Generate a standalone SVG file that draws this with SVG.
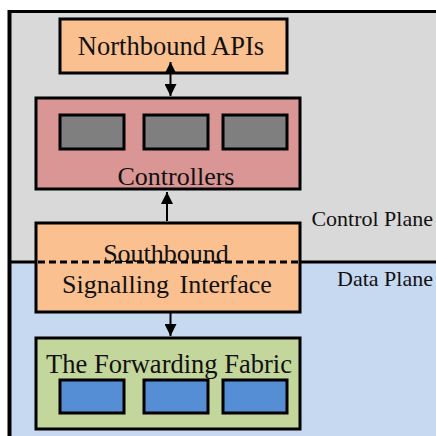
<svg xmlns="http://www.w3.org/2000/svg" width="436" height="436" viewBox="0 0 436 436">
  <style>
    .box { stroke: #000; stroke-width: 3; }
    .cell-ctrl { fill: #7F7F7F; stroke: #000; stroke-width: 3; }
    .cell-fwd { fill: #558ED5; stroke: #000; stroke-width: 3; }
    .conn { stroke: #000; stroke-width: 2; fill: none; }
  </style>
  <defs>
    <marker id="arrow" viewBox="0 0 10 10" refX="10" refY="5" markerWidth="6" markerHeight="6" markerUnits="strokeWidth" orient="auto-start-reverse">
      <path d="M0,0 L10,5 L0,10 Z" fill="#000"/>
    </marker>
  </defs>

  <rect width="436" height="436" fill="#fff"/>

  <g font-family="Liberation Serif, Times New Roman, serif" fill="#111">
    <!-- control / data plane background -->
    <g id="planes">
      <rect x="10" y="11" width="426" height="251" fill="#D9D9D9"/>
      <rect x="10" y="262" width="426" height="174" fill="#C6D9F1"/>
      <line x1="9" y1="11.5" x2="436" y2="11.5" stroke="#000" stroke-width="3"/>
      <line x1="9.5" y1="10" x2="9.5" y2="436" stroke="#000" stroke-width="4"/>
      <line x1="9" y1="262" x2="436" y2="262" stroke="#000" stroke-width="3"/>
      <text x="433" y="226" font-size="22" text-anchor="end">Control Plane</text>
      <text x="433" y="286" font-size="22" text-anchor="end">Data Plane</text>
    </g>

    <g id="northbound">
      <rect class="box" x="60" y="19" width="227" height="54" fill="#FAC090"/>
      <text x="171" y="55" font-size="26.5" text-anchor="middle">Northbound APIs</text>
    </g>

    <g id="controllers">
      <rect class="box" x="36" y="98" width="264" height="91" fill="#D99694"/>
      <rect class="cell-ctrl" x="60" y="115" width="64" height="34"/>
      <rect class="cell-ctrl" x="144" y="115" width="64" height="34"/>
      <rect class="cell-ctrl" x="223" y="115" width="64" height="34"/>
      <text x="176" y="185" font-size="26" text-anchor="middle">Controllers</text>
    </g>

    <g id="southbound">
      <rect class="box" x="36" y="223" width="264" height="89" fill="#FAC090"/>
      <text x="166" y="262" font-size="26" text-anchor="middle">Southbound</text>
      <text x="167" y="293" font-size="26" text-anchor="middle" word-spacing="4">Signalling Interface</text>
      <line x1="38" y1="262" x2="298" y2="262" stroke="#000" stroke-width="3" stroke-dasharray="7 4"/>
    </g>

    <g id="forwarding">
      <rect class="box" x="36" y="338" width="264" height="91" fill="#C3D69B"/>
      <text x="169" y="373" font-size="26.5" text-anchor="middle">The Forwarding Fabric</text>
      <rect class="cell-fwd" x="60" y="380" width="64" height="33"/>
      <rect class="cell-fwd" x="144" y="380" width="64" height="33"/>
      <rect class="cell-fwd" x="223" y="380" width="64" height="33"/>
    </g>
  </g>

  <g id="connectors">
    <line class="conn" x1="170.5" y1="62" x2="170.5" y2="96" marker-start="url(#arrow)" marker-end="url(#arrow)"/>
    <line class="conn" x1="167" y1="221" x2="167" y2="192" marker-end="url(#arrow)"/>
    <line class="conn" x1="170.5" y1="313" x2="170.5" y2="336" marker-end="url(#arrow)"/>
  </g>
</svg>
